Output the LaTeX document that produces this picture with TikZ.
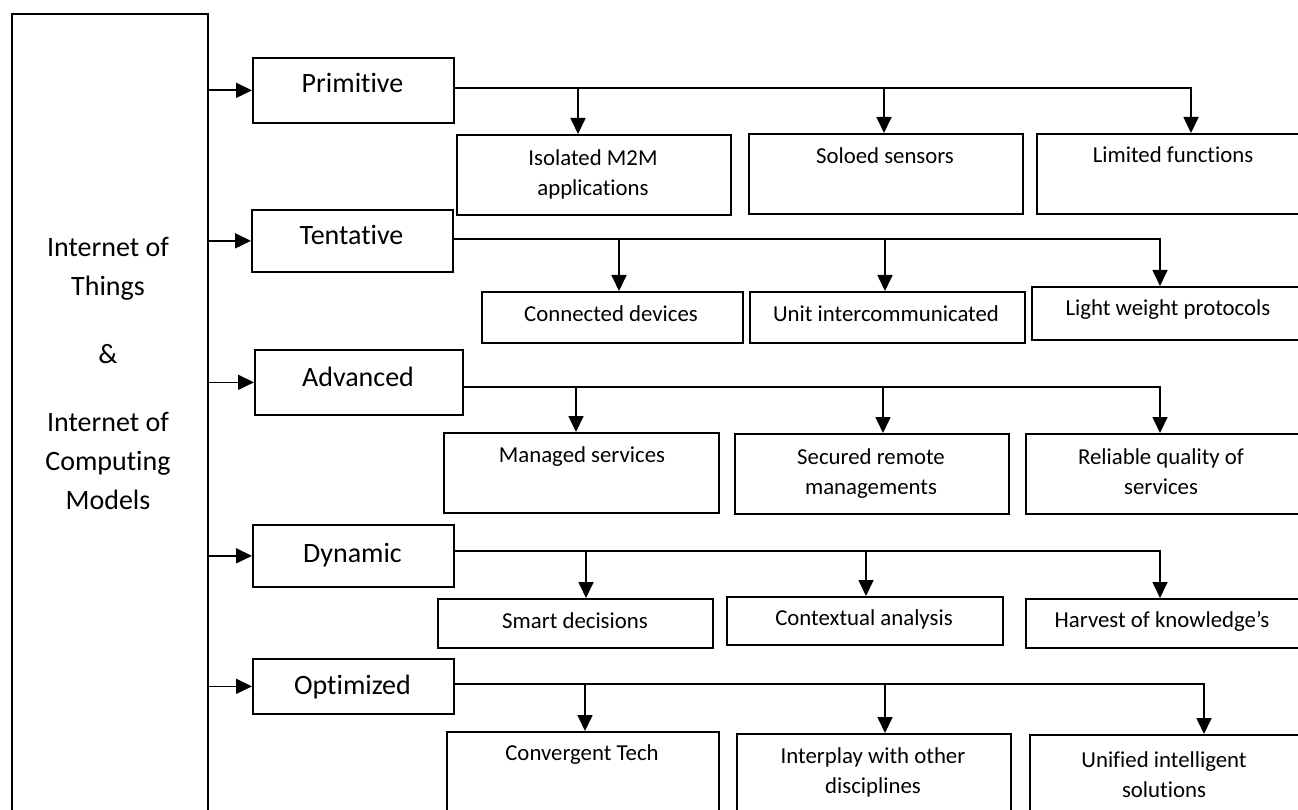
\documentclass[tikz,border=0pt]{standalone}
\usepackage{fontspec}
\setmainfont{Carlito}[Ligatures=NoCommon]
\usetikzlibrary{arrows.meta}
\begin{document}
\begin{tikzpicture}[x=1pt,y=-1pt,
  frame/.style={draw, line width=1.7pt, rectangle, inner sep=0pt, anchor=north west},
  stage/.style={font=\fontsize{28}{34}\selectfont, anchor=base, inner sep=0pt},
  item/.style={font=\fontsize{22.8}{30}\selectfont, anchor=base, inner sep=0pt},
  feed/.style={line width=1.7pt, -{Triangle[length=16pt,width=15pt]}},
]
\useasboundingbox (0,0) rectangle (1298,810);
\clip (0,0) rectangle (1298,810);

% left column
\node[frame, minimum width=196pt, minimum height=830pt] (iot) at (11,13) {};
\node[anchor=base, inner sep=0pt, font=\fontsize{28}{39}\selectfont] (iott) at (108,257)
  {\begin{tabular}[t]{@{}c@{}}Internet of\\Things\\[29pt]\&\\[29pt]Internet of\\Computing\\Models\end{tabular}};

% stage boxes
\node[frame, minimum width=201pt, minimum height=65pt] (prim) at (252,57) {};
\node[stage] (primt) at (352.5,93) {Primitive};
\node[frame, minimum width=201pt, minimum height=62pt] (tent) at (251,209) {};
\node[stage] (tentt) at (351.5,245) {Tentative};
\node[frame, minimum width=208pt, minimum height=65pt] (adv) at (254,349) {};
\node[stage] (advt) at (358,386) {Advanced};
\node[frame, minimum width=201pt, minimum height=62pt] (dyn) at (252,524) {};
\node[stage] (dynt) at (352.5,562) {Dynamic};
\node[frame, minimum width=201pt, minimum height=55pt] (opt) at (252,658) {};
\node[stage] (optt) at (352.5,694) {Optimized};

% row 1
\node[frame, minimum width=274pt, minimum height=80pt] (s11) at (456,134) {};
\node[item] (t11) at (593,166) {\begin{tabular}[t]{@{}c@{}}Isolated M2M\\applications\end{tabular}};
\node[frame, minimum width=274pt, minimum height=80pt] (s12) at (748,133) {};
\node[item] (t12) at (885,164) {Soloed sensors};
\node[frame, minimum width=300pt, minimum height=80pt] (s13) at (1036,133) {};
\node[item] (t13) at (1173,163) {Limited functions};

% row 2
\node[frame, minimum width=261pt, minimum height=51pt] (s21) at (481,291) {};
\node[item] (t21) at (611,321) {Connected devices};
\node[frame, minimum width=275pt, minimum height=51pt] (s22) at (749,291) {};
\node[item] (t22) at (886,321) {Unit intercommunicated};
\node[frame, minimum width=300pt, minimum height=53pt] (s23) at (1031,286) {};
\node[item] (t23) at (1168,315) {Light weight protocols};

% row 3
\node[frame, minimum width=275pt, minimum height=80pt] (s31) at (443,432) {};
\node[item] (t31) at (582,462) {Managed services};
\node[frame, minimum width=274pt, minimum height=80pt] (s32) at (734,433) {};
\node[item] (t32) at (871,464) {\begin{tabular}[t]{@{}c@{}}Secured remote\\managements\end{tabular}};
\node[frame, minimum width=300pt, minimum height=80pt] (s33) at (1025,433) {};
\node[item] (t33) at (1161,464) {\begin{tabular}[t]{@{}c@{}}Reliable quality of\\services\end{tabular}};

% row 4
\node[frame, minimum width=275pt, minimum height=49pt] (s41) at (437,598) {};
\node[item] (t41) at (575,628) {Smart decisions};
\node[frame, minimum width=276pt, minimum height=48pt] (s42) at (726,596) {};
\node[item] (t42) at (864,625) {Contextual analysis};
\node[frame, minimum width=300pt, minimum height=49pt] (s43) at (1025,598) {};
\node[item] (t43) at (1162,627) {Harvest of knowledge’s};

% row 5
\node[frame, minimum width=272pt, minimum height=100pt] (s51) at (446,731) {};
\node[item] (t51) at (582,760) {Convergent Tech};
\node[frame, minimum width=274pt, minimum height=100pt] (s52) at (736,733) {};
\node[item] (t52) at (873,763) {\begin{tabular}[t]{@{}c@{}}Interplay with other\\disciplines\end{tabular}};
\node[frame, minimum width=300pt, minimum height=100pt] (s53) at (1029,734) {};
\node[item] (t53) at (1164,767) {\begin{tabular}[t]{@{}c@{}}Unified intelligent\\solutions\end{tabular}};

% feeds from the left column
\foreach \s in {prim,tent,adv,dyn,opt}
  \draw[feed] (iot.east |- \s.west) -- (\s.west);

% branch points on each bus
\coordinate (d11) at (578,88);  \coordinate (d12) at (884,88);  \coordinate (d13) at (1191,88);
\coordinate (d21) at (619,239); \coordinate (d22) at (885,239); \coordinate (d23) at (1160,239);
\coordinate (d31) at (576,387); \coordinate (d32) at (883,387); \coordinate (d33) at (1160,387);
\coordinate (d41) at (586,551); \coordinate (d42) at (866,551); \coordinate (d43) at (1160,551);
\coordinate (d51) at (585,684); \coordinate (d52) at (885,684); \coordinate (d53) at (1204,684);

% buses with their drops
\draw[feed] (prim.east |- d13) -- (d13) -- (d13 |- s13.north);
\draw[feed] (d11) -- (d11 |- s11.north);
\draw[feed] (d12) -- (d12 |- s12.north);

\draw[feed] (tent.east |- d23) -- (d23) -- (d23 |- s23.north);
\draw[feed] (d21) -- (d21 |- s21.north);
\draw[feed] (d22) -- (d22 |- s22.north);

\draw[feed] (adv.east |- d33) -- (d33) -- (d33 |- s33.north);
\draw[feed] (d31) -- (d31 |- s31.north);
\draw[feed] (d32) -- (d32 |- s32.north);

\draw[feed] (dyn.east |- d43) -- (d43) -- (d43 |- s43.north);
\draw[feed] (d41) -- (d41 |- s41.north);
\draw[feed] (d42) -- (d42 |- s42.north);

\draw[feed] (opt.east |- d53) -- (d53) -- (d53 |- s53.north);
\draw[feed] (d51) -- (d51 |- s51.north);
\draw[feed] (d52) -- (d52 |- s52.north);
\end{tikzpicture}
\end{document}
